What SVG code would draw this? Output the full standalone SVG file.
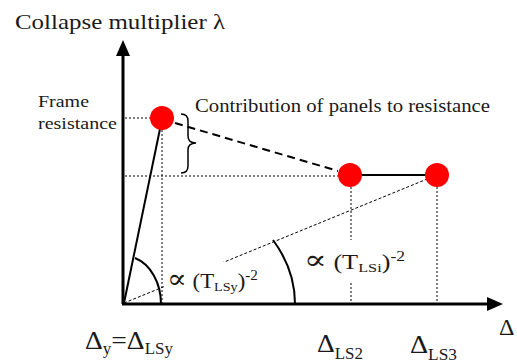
<svg xmlns="http://www.w3.org/2000/svg" width="517" height="363" viewBox="0 0 517 363">
<style>
  .t { font-family: "Liberation Serif", "DejaVu Serif", serif; fill: #1a1a1a; }
  .axis { stroke: #000; stroke-width: 3; fill: none; }
  .dot { stroke: #000; stroke-width: 1; stroke-dasharray: 2 2; fill: none; }
  .dot2 { stroke: #000; stroke-width: 1; stroke-dasharray: 3 2; fill: none; }
  .solid { stroke: #000; stroke-width: 2; fill: none; }
  .dash { stroke: #000; stroke-width: 2; stroke-dasharray: 8 5; fill: none; }
  .pt { fill: #ff0000; }
</style>
<rect width="517" height="363" fill="#fff"/>
<g id="axes">
  <line class="axis" x1="123" y1="304" x2="123" y2="54"/>
  <polygon points="123,40 116,56 130,56" fill="#000"/>
  <line class="axis" x1="122" y1="304" x2="489" y2="304"/>
  <polygon points="503,304 487,297 487,311" fill="#000"/>
</g>
<g id="connectors">
  <line class="dot" x1="125" y1="118" x2="150" y2="118"/>
  <line class="dot" x1="125" y1="176" x2="338" y2="176"/>
  <line class="dot" x1="162" y1="130" x2="162" y2="303"/>
  <line class="dot" x1="351" y1="187" x2="351" y2="303"/>
  <line class="dot" x1="437" y1="187" x2="437" y2="303"/>
  <line class="dot2" x1="124" y1="303" x2="437" y2="175"/>
  <line class="solid" x1="124" y1="303" x2="161" y2="124"/>
  <line class="solid" x1="350" y1="175" x2="437" y2="175"/>
  <line class="dash" x1="175" y1="123" x2="338" y2="171"/>
  <path class="solid" d="M135,258 A37,48 0 0 1 161,304"/>
  <path class="solid" d="M273,240 A171,130 0 0 1 295,304"/>
  <path d="M181,114 Q188,114 188,121 L188,136 Q188,143 196,143 Q188,143 188,150 L188,166 Q188,173 181,173" stroke="#000" stroke-width="1.5" fill="none"/>
</g>
<g id="point-frame"><circle class="pt" cx="162" cy="118" r="12"/></g>
<g id="point-ls2"><circle class="pt" cx="350" cy="175" r="12"/></g>
<g id="point-ls3"><circle class="pt" cx="437" cy="175" r="12"/></g>
<g id="labels">
  <text class="t" x="15" y="29" font-size="21" textLength="210" lengthAdjust="spacingAndGlyphs">Collapse multiplier λ</text>
  <text class="t" x="38" y="107" font-size="17" textLength="51" lengthAdjust="spacingAndGlyphs">Frame</text>
  <text class="t" x="38" y="129" font-size="17" textLength="79" lengthAdjust="spacingAndGlyphs">resistance</text>
  <text class="t" x="195" y="112" font-size="19" textLength="295" lengthAdjust="spacingAndGlyphs">Contribution of panels to resistance</text>
  <rect x="164" y="262" width="100" height="34" fill="#fff"/>
  <text class="t" x="167" y="288" font-size="21" textLength="91" lengthAdjust="spacingAndGlyphs"><tspan font-size="27">∝</tspan> (T<tspan dy="3" font-size="13">LSy</tspan><tspan dy="-3">)</tspan><tspan dy="-8" font-size="14">-2</tspan></text>
  <rect x="300" y="240" width="110" height="43" fill="#fff"/>
  <text class="t" x="304" y="269" font-size="21" textLength="101" lengthAdjust="spacingAndGlyphs"><tspan font-size="27">∝</tspan>  (T<tspan dy="3" font-size="13">LSi</tspan><tspan dy="-3">)</tspan><tspan dy="-8" font-size="14">-2</tspan></text>
  <text class="t" x="85" y="349" font-size="26" textLength="88" lengthAdjust="spacingAndGlyphs">Δ<tspan dy="5" font-size="16">y</tspan><tspan dy="-5">=Δ</tspan><tspan dy="5" font-size="16">LSy</tspan></text>
  <text class="t" x="317" y="352" font-size="26" textLength="46" lengthAdjust="spacingAndGlyphs">Δ<tspan dy="7" font-size="16">LS2</tspan></text>
  <text class="t" x="410" y="353" font-size="26" textLength="47" lengthAdjust="spacingAndGlyphs">Δ<tspan dy="7" font-size="16">LS3</tspan></text>
  <text class="t" x="499" y="335" font-size="24">Δ</text>
</g>
</svg>
